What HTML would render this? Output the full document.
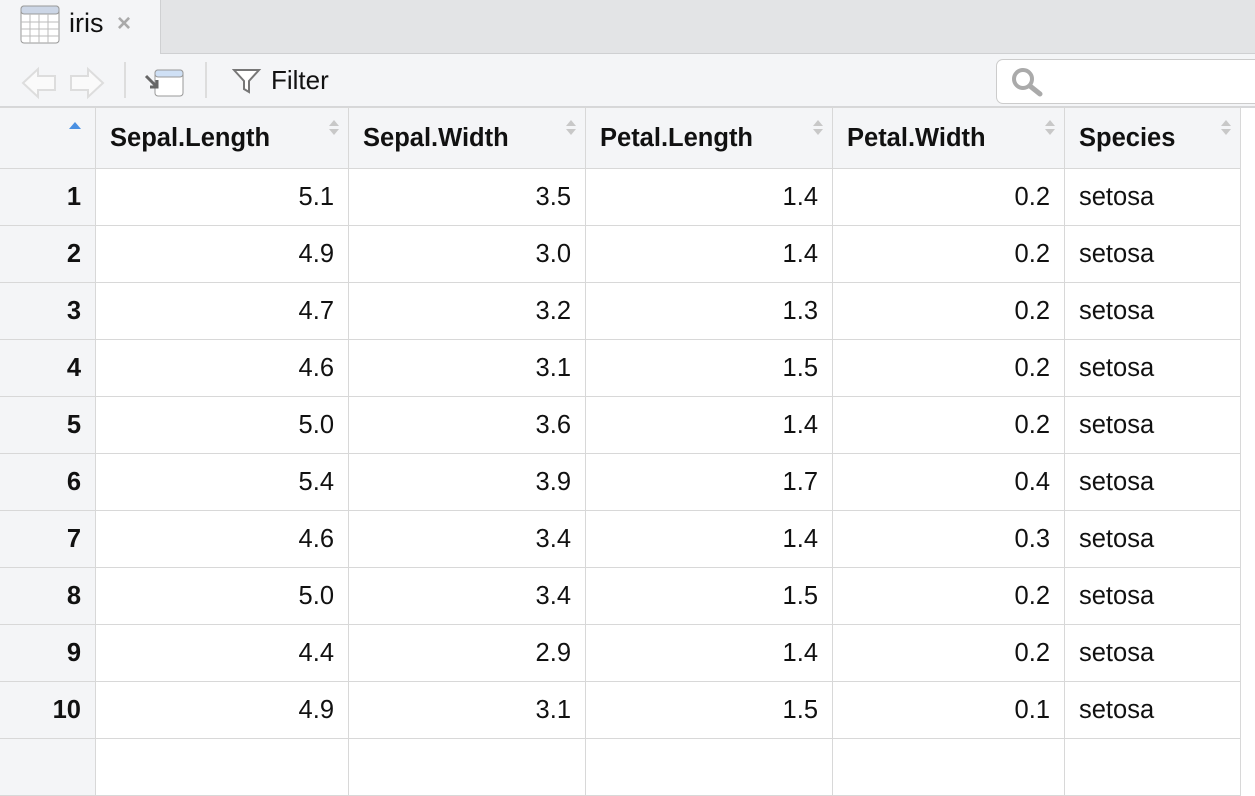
<!DOCTYPE html>
<html><head><style>
body{margin:0;width:1255px;height:745px;overflow:hidden;background:#fff;font-family:"Liberation Sans",sans-serif;position:relative}
.abs{position:absolute}
.tabbar{left:0;top:0;width:1255px;height:54px;background:#e3e4e6;border-bottom:1px solid #cfd0d2;box-sizing:border-box}
.tab{left:0;top:0;width:161px;height:55px;background:#f4f5f7;border-right:1px solid #cfd0d2;box-sizing:border-box}
.toolbar{left:0;top:54px;width:1255px;height:54px;background:#f4f5f7;border-bottom:2px solid #d6d7d9;box-sizing:border-box}
table{position:absolute;left:-1px;top:107px;border-collapse:collapse;font-size:25.5px;color:#111}
td,th{border:1px solid #d8d8d8;height:57px;padding:0 14px;box-sizing:border-box}
th{height:61px;text-align:left;background:#f4f5f7;font-weight:bold;position:relative}
td{text-align:right}
td.n{background:#f4f5f7;font-weight:bold}
td.s{text-align:left}
.sort{position:absolute;right:14px;top:12px;width:0;height:0}
.sort:before{content:"";position:absolute;left:-5px;top:0;border:5px solid transparent;border-bottom:6px solid #c8c8c8;border-top:0}
.sort:after{content:"";position:absolute;left:-5px;top:9px;border:5px solid transparent;border-top:6px solid #c8c8c8;border-bottom:0}
</style></head><body>
<div class="abs tabbar"></div>
<div class="abs tab"></div>
<svg class="abs" style="left:20px;top:5px" width="41" height="40"><rect x="1" y="1" width="38" height="37" rx="3" fill="#fff" stroke="#999"/><rect x="1" y="1" width="38" height="8" rx="3" fill="#ccd6e6" stroke="#999"/><g stroke="#bbb"><line x1="1" y1="17" x2="39" y2="17"/><line x1="1" y1="24" x2="39" y2="24"/><line x1="1" y1="31" x2="39" y2="31"/><line x1="10" y1="9" x2="10" y2="38"/><line x1="19" y1="9" x2="19" y2="38"/><line x1="28" y1="9" x2="28" y2="38"/></g></svg>
<div class="abs" style="left:69px;top:8px;font-size:27px;color:#111">iris</div>
<div class="abs" style="left:117px;top:10px;font-size:24px;color:#aaa;font-weight:bold">×</div>
<div class="abs toolbar"></div>
<svg class="abs" style="left:20px;top:66px" width="86" height="34"><path d="M3 17 L18 3 V10 H35 V24 H18 V31 Z" fill="#fafafa" stroke="#ddd" stroke-width="2"/><path d="M83 17 L68 3 V10 H51 V24 H68 V31 Z" fill="#fafafa" stroke="#ddd" stroke-width="2"/></svg>
<div class="abs" style="left:124px;top:62px;width:2px;height:36px;background:#ddd"></div>
<svg class="abs" style="left:143px;top:68px" width="42" height="30"><rect x="12" y="2" width="28" height="26" rx="3" fill="#fff" stroke="#999"/><rect x="12" y="2" width="28" height="7" rx="3" fill="#cfe0f5" stroke="#999"/><path d="M3 8 L14 19 M14 12 V19 H7" stroke="#666" stroke-width="3" fill="none"/></svg>
<div class="abs" style="left:205px;top:62px;width:2px;height:36px;background:#ddd"></div>
<svg class="abs" style="left:232px;top:68px" width="30" height="26"><path d="M2 2 H27 L17 13 V24 L12 21 V13 Z" fill="#fff" stroke="#777" stroke-width="2"/></svg>
<div class="abs" style="left:271px;top:65px;font-size:26px;color:#111">Filter</div>
<div class="abs" style="left:996px;top:59px;width:280px;height:43px;background:#fff;border:1px solid #ccc;border-radius:7px"></div>
<svg class="abs" style="left:1010px;top:66px" width="36" height="32"><circle cx="13" cy="13" r="9" fill="none" stroke="#aaa" stroke-width="4"/><line x1="20" y1="20" x2="30" y2="28" stroke="#aaa" stroke-width="5" stroke-linecap="round"/></svg>
<table>
<tr><th style="width:96px"><span class="abs" style="right:14px;top:14px;border:6px solid transparent;border-bottom:7px solid #4a90e2;border-top:0"></span></th><th style="width:253px">Sepal.Length<span class="sort"></span></th><th style="width:237px">Sepal.Width<span class="sort"></span></th><th style="width:247px">Petal.Length<span class="sort"></span></th><th style="width:232px">Petal.Width<span class="sort"></span></th><th style="width:176px">Species<span class="sort"></span></th></tr>
<tr><td class="n">1</td><td>5.1</td><td>3.5</td><td>1.4</td><td>0.2</td><td class="s">setosa</td></tr>
<tr><td class="n">2</td><td>4.9</td><td>3.0</td><td>1.4</td><td>0.2</td><td class="s">setosa</td></tr>
<tr><td class="n">3</td><td>4.7</td><td>3.2</td><td>1.3</td><td>0.2</td><td class="s">setosa</td></tr>
<tr><td class="n">4</td><td>4.6</td><td>3.1</td><td>1.5</td><td>0.2</td><td class="s">setosa</td></tr>
<tr><td class="n">5</td><td>5.0</td><td>3.6</td><td>1.4</td><td>0.2</td><td class="s">setosa</td></tr>
<tr><td class="n">6</td><td>5.4</td><td>3.9</td><td>1.7</td><td>0.4</td><td class="s">setosa</td></tr>
<tr><td class="n">7</td><td>4.6</td><td>3.4</td><td>1.4</td><td>0.3</td><td class="s">setosa</td></tr>
<tr><td class="n">8</td><td>5.0</td><td>3.4</td><td>1.5</td><td>0.2</td><td class="s">setosa</td></tr>
<tr><td class="n">9</td><td>4.4</td><td>2.9</td><td>1.4</td><td>0.2</td><td class="s">setosa</td></tr>
<tr><td class="n">10</td><td>4.9</td><td>3.1</td><td>1.5</td><td>0.1</td><td class="s">setosa</td></tr>
<tr><td class="n"></td><td></td><td></td><td></td><td></td><td class="s"></td></tr>
</table>
</body></html>
